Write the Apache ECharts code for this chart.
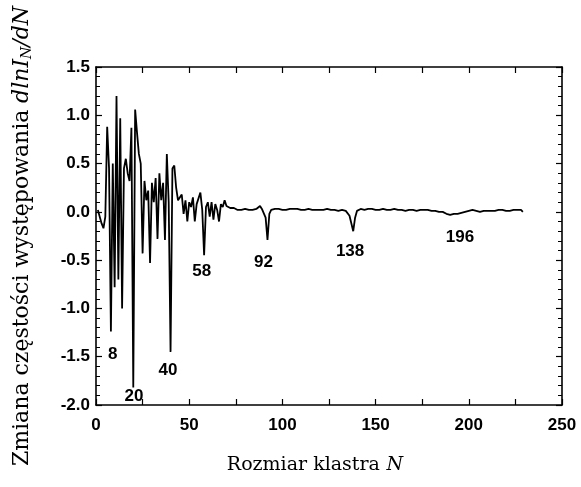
<!DOCTYPE html>
<html>
<head>
<meta charset="utf-8">
<script src="https://cdn.jsdelivr.net/npm/echarts@6/dist/echarts.min.js"></script>
<style>html,body{margin:0;padding:0;background:#fff;}#c{width:581px;height:487px;}</style>
</head>
<body>
<div id="c"></div>
<script>
// Cluster size N starts at 1 and increases by 1 per value
const firstN = 1;
// d ln I_N / dN, N = 1..70
const valuesDense = [
  0.02, 0.00, -0.12, -0.17, -0.05, 0.88, 0.45, -1.24, 0.50, -0.78,
  1.20, -0.70, 0.97, -1.00, 0.45, 0.55, 0.40, 0.32, 0.87, -1.82,
  1.06, 0.82, 0.60, 0.50, -0.43, 0.32, 0.12, 0.22, -0.53, 0.30,
  0.10, 0.35, -0.28, 0.40, 0.12, 0.30, -0.29, 0.60, 0.10, -1.45,
  0.45, 0.48, 0.25, 0.12, 0.10, 0.18, -0.02, 0.12, -0.10, 0.10,
  0.05, 0.15, -0.10, 0.08, 0.10, 0.20, 0.02, -0.45, 0.05, 0.10,
  -0.05, 0.10, -0.08, 0.08, 0.02, -0.10, 0.08, 0.05, 0.12, 0.06
];
// N = 71..229
const valuesTail = [
  0.05, 0.04, 0.03, 0.04, 0.03, 0.02, 0.03, 0.02, 0.02, 0.03,
  0.02, 0.02, 0.03, 0.02, 0.03, 0.03, 0.04, 0.06, 0.03, 0.01,
  -0.06, -0.29, -0.02, 0.02, 0.03, 0.03, 0.02, 0.03, 0.03, 0.02,
  0.03, 0.02, 0.03, 0.03, 0.02, 0.03, 0.02, 0.03, 0.02, 0.02,
  0.03, 0.02, 0.02, 0.03, 0.02, 0.02, 0.01, 0.02, 0.02, 0.02,
  0.03, 0.02, 0.02, 0.03, 0.02, 0.02, 0.01, 0.02, 0.02, 0.01,
  0.02, 0.02, 0.01, 0.01, 0.00, -0.04, -0.12, -0.20, -0.06, 0.01,
  0.02, 0.03, 0.03, 0.02, 0.03, 0.03, 0.02, 0.03, 0.02, 0.02,
  0.03, 0.02, 0.02, 0.03, 0.02, 0.02, 0.03, 0.02, 0.02, 0.03,
  0.02, 0.02, 0.03, 0.02, 0.02, 0.01, 0.02, 0.02, 0.03, 0.02,
  0.02, 0.01, 0.02, 0.02, 0.01, 0.02, 0.01, 0.02, 0.01, 0.01,
  0.02, 0.01, 0.01, 0.00, 0.01, 0.00, -0.01, -0.02, -0.02, -0.03,
  -0.03, -0.02, -0.03, -0.02, -0.03, -0.01, -0.02, 0.00, -0.01, 0.01,
  0.00, 0.02, 0.01, 0.01, 0.02, 0.00, 0.02, 0.01, 0.02, 0.01,
  0.02, 0.01, 0.03, 0.01, 0.02, 0.02, 0.01, 0.02, 0.03, 0.01,
  0.02, 0.01, 0.02, 0.02, 0.03, 0.02, 0.01, 0.02, 0.00
];
// Magic-number annotations: label text and its anchor in data coordinates
const peakLabels = ['8', '20', '40', '58', '92', '138', '196'];
const peakLabelN = [9.0, 20.4, 38.6, 56.7, 89.8, 136.3, 195.3];
const peakLabelV = [-1.48, -1.91, -1.645, -0.62, -0.52, -0.41, -0.26];
// Axis ranges / ticks
const xTicks = { min: 0, max: 250, interval: 50 };
const yTicks = { min: -2.0, max: 1.5, interval: 0.5 };

const allValues = valuesDense.concat(valuesTail);
const seriesData = allValues.map((v, i) => [firstN + i, v]);

const tickFont = { fontFamily: 'Liberation Sans, Arial, sans-serif', fontWeight: 'bold', fontSize: 17, color: '#000' };
const serif = 'DejaVu Serif, serif';

const chart = echarts.init(document.getElementById('c'), null, { renderer: 'canvas' });
const axisLine = { show: true, onZero: false, lineStyle: { color: '#000', width: 1.6 } };
const tick = { show: true, inside: true, length: 6, lineStyle: { color: '#000', width: 1.2 } };
const minorTickX = { show: true, splitNumber: 2, length: 6, lineStyle: { color: '#000', width: 1.2 } };
const minorTickY = { show: true, splitNumber: 5, length: 4, lineStyle: { color: '#000', width: 1 } };

chart.setOption({
  animation: false,
  backgroundColor: '#fff',
  grid: { left: 96, right: 19, top: 67, bottom: 82, containLabel: false },
  xAxis: [
    {
      type: 'value', position: 'bottom', min: xTicks.min, max: xTicks.max, interval: xTicks.interval,
      axisLine: axisLine, axisTick: tick, minorTick: minorTickX, splitLine: { show: false }, minorSplitLine: { show: false },
      axisLabel: Object.assign({ margin: 12, inside: false }, tickFont),
      name: '{r|Rozmiar klastra}  {i|N}', nameLocation: 'middle', nameGap: 51,
      nameTextStyle: {
        color: '#000', padding: [0, 28, 0, 0],
        rich: {
          r: { fontFamily: serif, fontSize: 19, color: '#000' },
          i: { fontFamily: serif, fontStyle: 'italic', fontSize: 19, color: '#000' }
        }
      }
    },
    {
      type: 'value', position: 'top', min: xTicks.min, max: xTicks.max, interval: xTicks.interval,
      axisLine: axisLine, axisTick: tick, minorTick: minorTickX, splitLine: { show: false },
      axisLabel: { show: false }
    }
  ],
  yAxis: [
    {
      type: 'value', position: 'left', min: yTicks.min, max: yTicks.max, interval: yTicks.interval,
      axisLine: axisLine, axisTick: tick, minorTick: minorTickY, splitLine: { show: false }, minorSplitLine: { show: false },
      axisLabel: Object.assign({ margin: 6, inside: false, formatter: v => v.toFixed(1) }, tickFont),
      name: '{r|Zmiana częstości występowania}  {i|dlnI}{s|N}{i|/dN}', nameLocation: 'middle', nameGap: 62, nameRotate: 90,
      nameTextStyle: {
        color: '#000',
        rich: {
          r: { fontFamily: serif, fontSize: 22, color: '#000' },
          i: { fontFamily: serif, fontStyle: 'italic', fontSize: 22, color: '#000' },
          s: { fontFamily: serif, fontStyle: 'italic', fontSize: 14, color: '#000', padding: [10, 0, 0, 0] }
        }
      }
    },
    {
      type: 'value', position: 'right', min: yTicks.min, max: yTicks.max, interval: yTicks.interval,
      axisLine: axisLine, axisTick: tick, minorTick: minorTickY, splitLine: { show: false },
      axisLabel: { show: false }
    }
  ],
  series: [
    {
      type: 'line', xAxisIndex: 0, yAxisIndex: 0, data: seriesData, showSymbol: false, symbol: 'none',
      lineStyle: { color: '#000', width: 1.8 }, silent: true,
      markPoint: {
        symbol: 'circle', symbolSize: 0, silent: true,
        label: Object.assign({ show: true, position: 'inside', formatter: p => p.name }, tickFont),
        data: peakLabels.map((t, i) => ({ name: t, coord: [peakLabelN[i], peakLabelV[i]] }))
      }
    }
  ]
});
</script>
</body>
</html>
